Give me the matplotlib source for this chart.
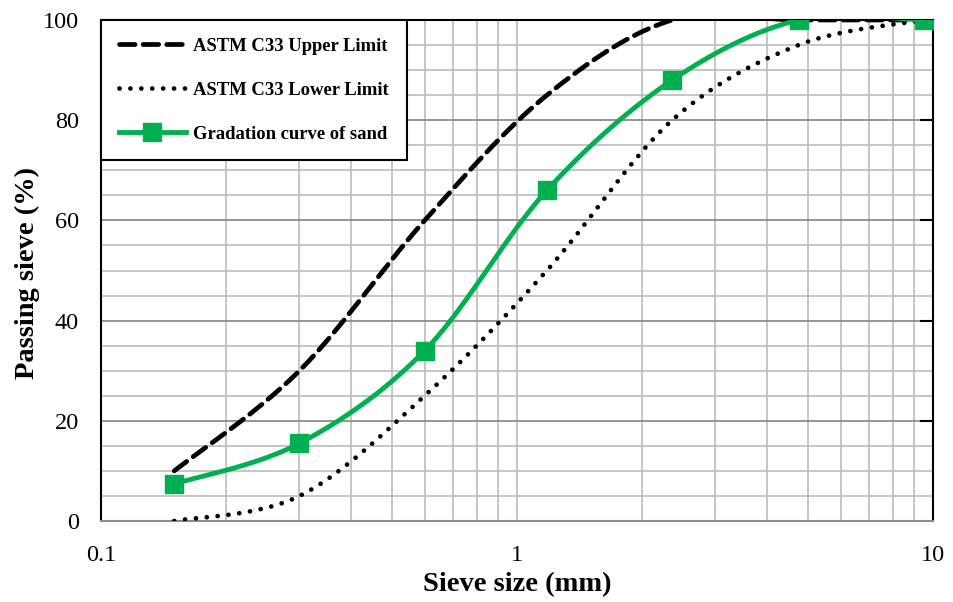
import numpy as np
import matplotlib.pyplot as plt
from matplotlib.ticker import MultipleLocator, FixedLocator, NullFormatter

sieve = [0.15, 0.3, 0.6, 1.18, 2.36, 4.75, 9.5]
upper = [10, 30, 60, 85, 100, 100, 100]
lower = [0, 5, 25, 50, 80, 95, 100]
sand = [7.4, 15.5, 34, 66, 88, 100, 100]

GREEN = '#00B050'


def smooth(xs, ys, n=30):
    # Excel-like smoothed line: Catmull-Rom Bezier in (log x, y) space
    px = np.log10(xs)
    py = np.asarray(ys, float)
    P = np.column_stack([px, py])
    P = np.vstack([P[0], P, P[-1]])
    out = []
    t = np.linspace(0, 1, n)[:, None]
    for i in range(1, len(P) - 2):
        p0, p3 = P[i], P[i + 1]
        c1 = p0 + (P[i + 1] - P[i - 1]) / 6
        c2 = p3 - (P[i + 2] - P[i]) / 6
        seg = ((1 - t) ** 3) * p0 + 3 * ((1 - t) ** 2) * t * c1 + 3 * (1 - t) * t ** 2 * c2 + t ** 3 * p3
        out.append(seg if i == 1 else seg[1:])
    out = np.vstack(out)
    return 10 ** out[:, 0], out[:, 1]


plt.rcParams['font.family'] = ['Liberation Serif', 'DejaVu Serif']

fig = plt.figure(figsize=(9.54, 6.02), dpi=100)
ax = fig.add_axes([101 / 954, 1 - 521 / 602, 832 / 954, 501 / 602])

ux, uy = smooth(sieve, upper)
lx, ly = smooth(sieve, lower)
sx, sy = smooth(sieve, sand)

ax.plot(ux, uy, color='black', lw=3.4, ls=(0, (3.3, 1.7)), dash_capstyle='round',
        label='ASTM C33 Upper Limit', zorder=3)
ax.plot(lx, ly, color='black', lw=3.4, ls=(0, (0.01, 2.3)), dash_capstyle='round',
        label='ASTM C33 Lower Limit', zorder=3)
ax.plot(sx, sy, color=GREEN, lw=3.5, zorder=4)
ax.plot(sieve, sand, ls='none', marker='s', ms=13, color=GREEN, zorder=5)
ax.plot([], [], color=GREEN, lw=3.5, marker='s', ms=13, label='Gradation curve of sand')

ax.set_xscale('log')
ax.set_xlim(0.1, 10)
ax.set_ylim(0, 100)
ax.xaxis.set_major_locator(FixedLocator([0.1, 1, 10]))
ax.set_xticklabels(['0.1', '1', '10'])
ax.xaxis.set_minor_locator(FixedLocator([k * 10.0 ** e for e in (-1, 0) for k in range(2, 10)]))
ax.xaxis.set_minor_formatter(NullFormatter())
ax.yaxis.set_major_locator(MultipleLocator(20))
ax.yaxis.set_minor_locator(MultipleLocator(5))

ax.grid(which='major', axis='y', color='#8c8c8c', lw=1.3)
ax.grid(which='minor', axis='y', color='#c0c0c0', lw=1.3)
ax.grid(which='both', axis='x', color='#c0c0c0', lw=1.3)
ax.set_axisbelow(True)

ax.tick_params(which='both', length=0, labelsize=17.5)
ax.tick_params(axis='y', pad=16)
ax.tick_params(axis='x', pad=17)

for s in ('left', 'top', 'right'):
    ax.spines[s].set_color('black')
    ax.spines[s].set_linewidth(1.5)
ax.spines['bottom'].set_color('#8c8c8c')
ax.spines['bottom'].set_linewidth(1.5)

# short inward ticks on the right edge
for yv in (20, 40, 60, 80):
    ax.plot([0.985, 1.0], [yv, yv], transform=ax.get_yaxis_transform(), color='black', lw=1.5,
            clip_on=False, zorder=6)

ax.set_xlabel('Sieve size (mm)', fontsize=20.5, fontweight='bold', labelpad=5)
ax.set_ylabel('Passing sieve (%)', fontsize=20.5, fontweight='bold')
ax.yaxis.set_label_coords(-0.089, 0.495)
ax.yaxis.label.set_va('center')

leg = ax.legend(loc='upper left', bbox_to_anchor=(0, 1), fancybox=False, framealpha=1,
                edgecolor='black', borderpad=0.95, labelspacing=1.45, handlelength=3.6,
                handletextpad=0.4, borderaxespad=0,
                prop={'family': 'Liberation Serif', 'weight': 'bold', 'size': 13.4})
leg.get_frame().set_linewidth(1.5)

fig.savefig('out.png', dpi=100)
